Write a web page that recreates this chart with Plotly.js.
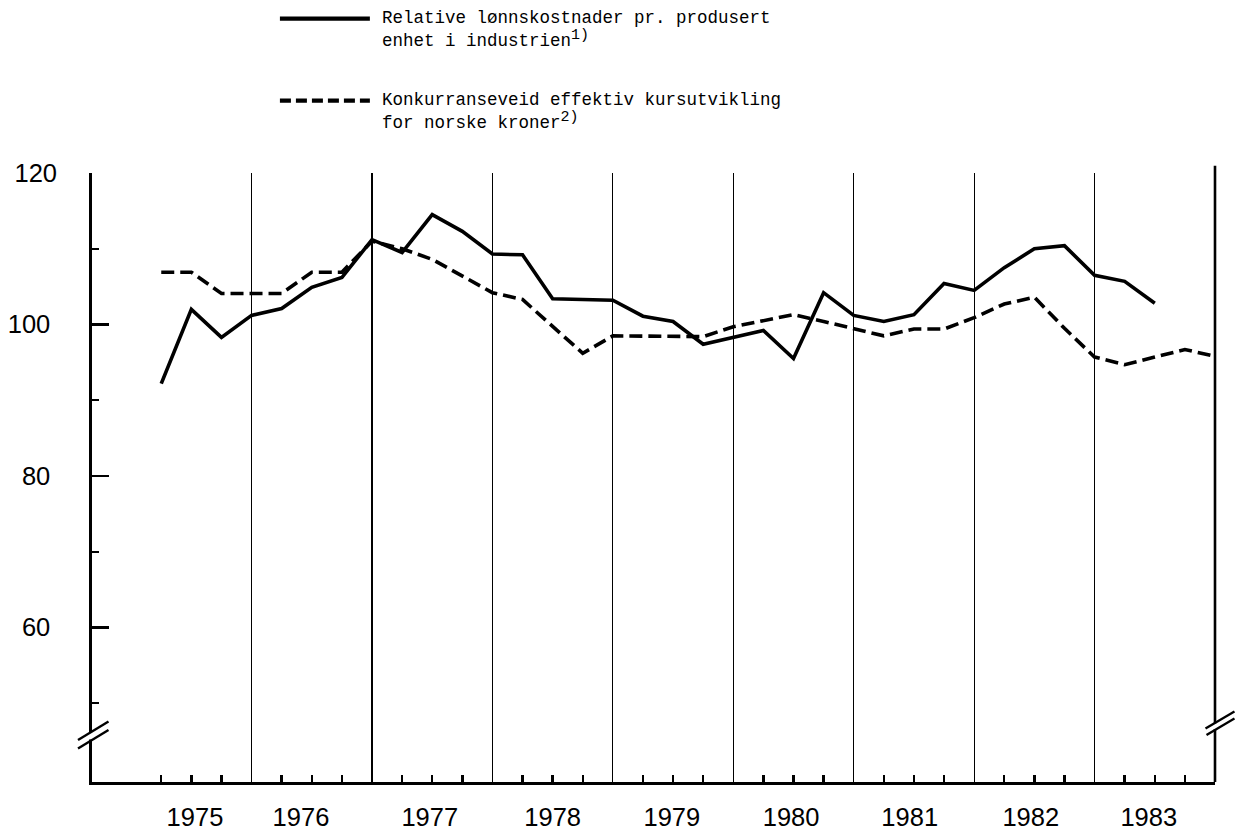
<!DOCTYPE html>
<html>
<head>
<meta charset="utf-8">
<script src="https://cdn.plot.ly/plotly-3.0.1.min.js"></script>
<style>
  html, body { margin: 0; padding: 0; background: #ffffff; }
  #chart { width: 1235px; height: 831px; }
</style>
</head>
<body>
<div id="chart"></div>
<script>
// ---------------- DATA ----------------
const years = [1975, 1976, 1977, 1978, 1979, 1980, 1981, 1982, 1983];
const quarters = [1, 2, 3, 4];
const yearLabels = ['1975', '1976', '1977', '1978', '1979', '1980', '1981', '1982', '1983'];

// Relative lønnskostnader pr. produsert enhet i industrien (1975 K1 - 1983 K2)
const relativeLabourCost = [
  92.2, 102.0, 98.3, 101.2,
  102.1, 104.9, 106.2, 111.2,
  109.5, 114.5, 112.3, 109.3,
  109.2, 103.4, 103.3, 103.2,
  101.1, 100.4, 97.4, 98.3,
  99.2, 95.5, 104.2, 101.2,
  100.4, 101.3, 105.4, 104.5,
  107.5, 110.0, 110.4, 106.5,
  105.7, 102.8
];

// Konkurranseveid effektiv kursutvikling for norske kroner (1975 K1 - 1983 K4)
const effectiveExchangeRate = [
  106.9, 106.9, 104.1, 104.1,
  104.1, 106.9, 106.9, 111.0,
  110.0, 108.6, 106.4, 104.2,
  103.3, 99.8, 96.2, 98.5,
  98.5, 98.5, 98.4, 99.7,
  100.5, 101.3, 100.4, 99.4,
  98.5, 99.4, 99.4, 100.9,
  102.7, 103.6, 99.5, 95.7,
  94.7, 95.7, 96.7, 95.8
];

const yMajorTicks = [60, 80, 100];
const yMinorTicks = [50, 70, 90, 110, 120];
const yLabelTicks = [120];

const legendText1 = ['Relative lønnskostnader pr. produsert', 'enhet i industrien'];
const legendText2 = ['Konkurranseveid effektiv kursutvikling', 'for norske kroner'];
const footnoteMarks = ['1)', '2)'];

// ---------------- DERIVED (periods -> axis positions) ----------------
const periods = [];
years.forEach(y => quarters.forEach(q => periods.push({ year: y, q: q })));
const periodX = periods.map(p => p.year + p.q / 4);  // each quarter plotted at its tick
const xSolid = periodX.slice(0, relativeLabourCost.length);
const xDashed = periodX.slice(0, effectiveExchangeRate.length);
const yearBoundaries = years.slice(1);                 // vertical lines between years
const quarterTicks = periodX.filter((v, i) => periods[i].q !== 4);

// ---------------- LAYOUT GEOMETRY (styling only) ----------------
const W = 1235, H = 831;
const L = 92, R = 1215.5, T = 173.3, B = 782;
const xRange = [1974.675, 1984.0];
const yRange = [120 - (B - T) / 7.571, 120];
const labelShift = [0.03, -0.09, -0.02, 0.0, -0.01, -0.02, -0.035, -0.03, -0.05];
const yearLabelPos = years.map((y, i) => y + 0.5 + labelShift[i]);

const px2x = px => (px - L) / (R - L);
const py2y = py => (B - py) / (B - T);

const tickFont = { family: 'Liberation Sans, Arial, sans-serif', size: 25.5, color: '#000' };
const legendFont = { family: 'Liberation Mono, Courier New, monospace', size: 17.5, color: '#000' };
const sup = mark => '<sup><span style="font-size:15px">' + mark + '</span></sup>';

const traces = [
  {
    x: xSolid, y: relativeLabourCost,
    type: 'scatter', mode: 'lines',
    line: { color: '#000', width: 3.6 },
    showlegend: false, hoverinfo: 'skip'
  },
  {
    x: xDashed, y: effectiveExchangeRate,
    xaxis: 'x2', yaxis: 'y2',
    type: 'scatter', mode: 'lines',
    line: { color: '#000', width: 3.6, dash: '13px,6px' },
    showlegend: false, hoverinfo: 'skip'
  }
];

const shapes = [
  // right axis line (extends slightly above the plot)
  { type: 'line', xref: 'paper', yref: 'paper', x0: 1, x1: 1, y0: 0, y1: py2y(166),
    line: { color: '#000', width: 2.6 } },
  // left break: white gap + slashes
  { type: 'rect', xref: 'paper', yref: 'paper', x0: px2x(88), x1: px2x(96),
    y0: py2y(739.5), y1: py2y(732), fillcolor: '#fff', line: { width: 0 }, layer: 'above' },
  { type: 'line', xref: 'paper', yref: 'paper', x0: px2x(78), y0: py2y(740), x1: px2x(108.5), y1: py2y(721.5),
    line: { color: '#000', width: 2.4 } },
  { type: 'line', xref: 'paper', yref: 'paper', x0: px2x(78), y0: py2y(748.5), x1: px2x(108.5), y1: py2y(730),
    line: { color: '#000', width: 2.4 } },
  // right break: white gap + slashes
  { type: 'rect', xref: 'paper', yref: 'paper', x0: px2x(1211), x1: px2x(1220),
    y0: py2y(729), y1: py2y(723.5), fillcolor: '#fff', line: { width: 0 }, layer: 'above' },
  { type: 'line', xref: 'paper', yref: 'paper', x0: px2x(1206), y0: py2y(728.5), x1: px2x(1235), y1: py2y(711.5),
    line: { color: '#000', width: 2.4 } },
  { type: 'line', xref: 'paper', yref: 'paper', x0: px2x(1207), y0: py2y(735), x1: px2x(1235), y1: py2y(718.5),
    line: { color: '#000', width: 2.4 } },
  // legend samples
  { type: 'line', xref: 'paper', yref: 'paper', x0: px2x(280), x1: px2x(370), y0: py2y(19), y1: py2y(19),
    line: { color: '#000', width: 4.2 } },
  { type: 'line', xref: 'paper', yref: 'paper', x0: px2x(280), x1: px2x(370), y0: py2y(101), y1: py2y(101),
    line: { color: '#000', width: 4.2, dash: '11px,5px' } }
];

const textX = 381;
const mkText = (text, px, py, font) => ({
  text: text, x: px2x(px), y: py2y(py), xref: 'paper', yref: 'paper',
  xanchor: 'left', yanchor: 'middle', showarrow: false, font: font, align: 'left',
  borderpad: 0
});
const annotations = [
  mkText(legendText1[0], textX, 18, legendFont),
  mkText(legendText1[1] + sup(footnoteMarks[0]), textX, 39, legendFont),
  mkText(legendText2[0], textX, 100, legendFont),
  mkText(legendText2[1] + sup(footnoteMarks[1]), textX, 121, legendFont)
];

const layout = {
  width: W, height: H,
  margin: { l: L, r: W - R, t: T, b: H - B, pad: 0 },
  paper_bgcolor: '#fff', plot_bgcolor: '#fff',
  showlegend: false,
  xaxis: {
    range: xRange, fixedrange: true,
    showline: true, linecolor: '#000', linewidth: 2.6,
    tickmode: 'array', tickvals: yearBoundaries, ticks: '', showticklabels: false,
    showgrid: true, gridcolor: '#000', gridwidth: 1.2,
    zeroline: false,
    minor: { tickmode: 'array', tickvals: quarterTicks, ticks: 'inside', ticklen: 7,
             tickwidth: 2.4, tickcolor: '#000', showgrid: false }
  },
  xaxis2: {
    overlaying: 'x', anchor: 'y', side: 'bottom',
    range: xRange, fixedrange: true,
    showline: false, showgrid: false, zeroline: false,
    tickmode: 'array', tickvals: yearLabelPos, ticktext: yearLabels,
    ticks: '', tickfont: tickFont, ticklabelstandoff: 17
  },
  yaxis: {
    range: yRange, fixedrange: true,
    showline: true, linecolor: '#000', linewidth: 2.6,
    showgrid: false, zeroline: false,
    tickmode: 'array', tickvals: yMajorTicks, ticktext: yMajorTicks.map(String),
    ticks: 'inside', ticklen: 17, tickwidth: 2.4, tickcolor: '#000',
    tickfont: tickFont, ticklabelstandoff: 34,
    minor: { tickmode: 'array', tickvals: yMinorTicks, ticks: 'inside', ticklen: 7,
             tickwidth: 2.4, tickcolor: '#000', showgrid: false }
  },
  yaxis2: {
    overlaying: 'y', anchor: 'x', side: 'left',
    range: yRange, fixedrange: true,
    showline: false, showgrid: false, zeroline: false,
    tickmode: 'array', tickvals: yLabelTicks, ticktext: yLabelTicks.map(String),
    ticks: '', tickfont: tickFont, ticklabelstandoff: 34
  },
  shapes: shapes,
  annotations: annotations
};

Plotly.newPlot('chart', traces, layout, { staticPlot: true, displayModeBar: false });
</script>
</body>
</html>
